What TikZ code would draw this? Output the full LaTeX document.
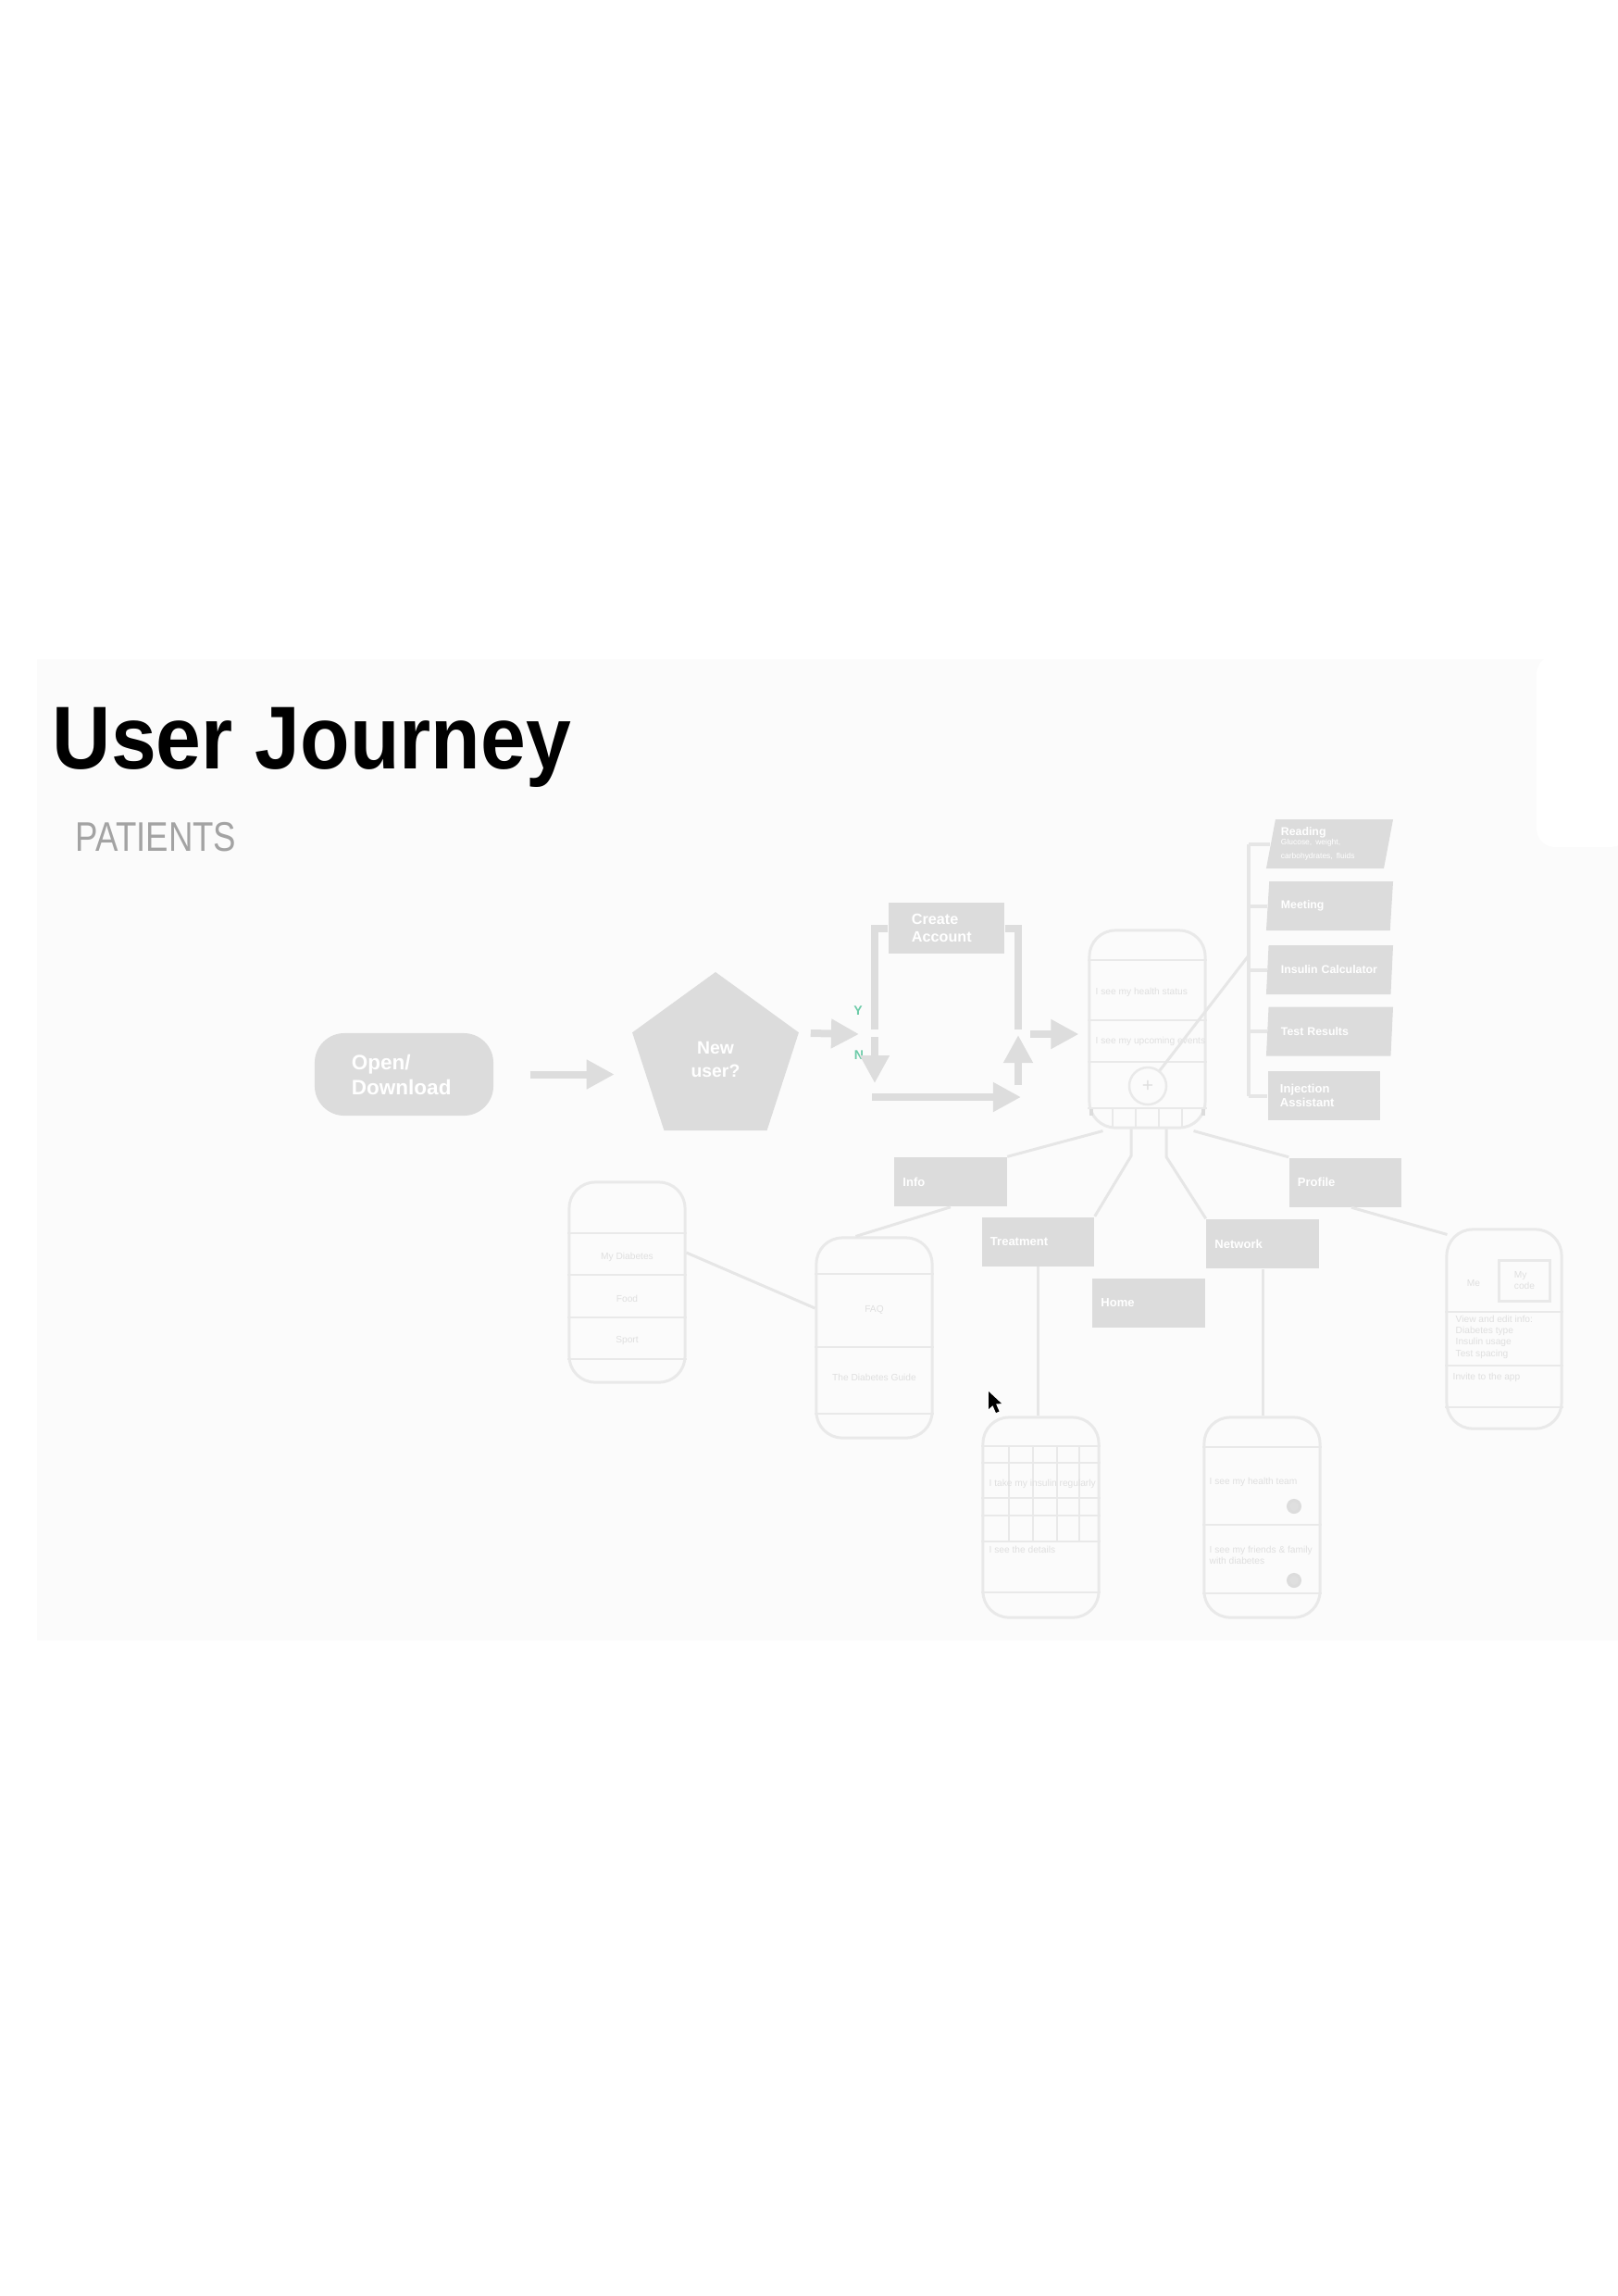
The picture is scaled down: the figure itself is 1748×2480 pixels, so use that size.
\documentclass[tikz,border=0pt]{standalone}
\usepackage{fontspec}
\setmainfont{Liberation Sans}
\newfontfamily\titlefont[FakeStretch=0.91]{Liberation Sans}
\newfontfamily\subfont[FakeStretch=0.82]{Liberation Sans}
\usetikzlibrary{positioning, arrows.meta, shapes.geometric, calc}
\definecolor{boxgray}{HTML}{DCDCDC}
\definecolor{flowgray}{HTML}{DDDDDD}
\definecolor{linegray}{HTML}{E6E6E6}
\definecolor{screengray}{HTML}{E9E9E9}
\definecolor{faintgray}{HTML}{DFDFDF}
\definecolor{slidegray}{HTML}{FBFBFB}
\definecolor{yesgreen}{HTML}{6CCBA8}
\definecolor{subgray}{HTML}{A3A3A3}

\begin{document}
\begin{tikzpicture}[x=0.01cm, y=-0.01cm]
    \tikzstyle{every node}=[inner sep=0pt]
    \tikzstyle{flow} = [draw=flowgray, line width=0.08cm, -{Triangle[length=0.3cm, width=0.3cm]}]
    \tikzstyle{flowline} = [draw=flowgray, line width=0.08cm]
    \tikzstyle{menubox} = [rectangle, fill=boxgray, minimum width=1.21cm, minimum height=0.53cm, text width=1.03cm, align=left, text=white, font=\fontsize{3.7}{4.4}\selectfont\bfseries]
    \tikzstyle{addbox} = [trapezium, trapezium left angle=74, trapezium right angle=106, trapezium stretches body, fill=boxgray, minimum width=1.37cm, minimum height=0.53cm, text width=1.05cm, align=left, text=white, font=\fontsize{3.5}{4.3}\selectfont\bfseries]
    \tikzstyle{phone} = [rectangle, rounded corners=0.28cm, draw=screengray, line width=0.03cm, minimum width=1.25cm, minimum height=2.16cm]
    \tikzstyle{divider} = [draw=screengray, line width=0.025cm]
    \tikzstyle{link} = [draw=linegray, line width=0.03cm]
    \tikzstyle{smalltext} = [text=faintgray, font=\fontsize{2.9}{3.5}\selectfont]
    \tikzstyle{yesno} = [text=yesgreen, font=\fontsize{4}{4}\selectfont\bfseries]

    \useasboundingbox (0,0) rectangle (1748,2480);
    \fill[white] (0,0) rectangle (1748,2480);
    \fill[slidegray] (40,712) rectangle (1748,1772);
    \fill[white, rounded corners=0.2cm] (1660,708) rectangle (1760,915);

    % title
    \node[anchor=base west, text=black, font=\titlefont\bfseries\fontsize{27.4}{32}\selectfont] (title) at (56,830) {User Journey};
    \node[anchor=base west, text=subgray, font=\subfont\fontsize{12.7}{15}\selectfont] (sub) at (81,919) {PATIENTS};

    % start
    \node[rectangle, rounded corners=0.32cm, fill=boxgray, minimum width=1.93cm, minimum height=0.89cm, text width=1.13cm, align=left, text=white, font=\fontsize{6.4}{7.7}\selectfont\bfseries] (od) at (436.5,1160.5) {Open/\\Download};
    \node[regular polygon, regular polygon sides=5, minimum size=1.89cm, fill=boxgray, align=center, text=white, font=\fontsize{5.5}{7}\selectfont\bfseries] (nu) at (773,1144.5) {New\\user?};
    \node[rectangle, fill=boxgray, minimum width=1.25cm, minimum height=0.55cm, text width=0.75cm, align=left, text=white, font=\fontsize{4.6}{5.6}\selectfont\bfseries] (ca) at (1022.5,1002.5) {Create\\Account};

    \coordinate (ysplit) at (945,1117);
    \coordinate (jn) at (1100,1117);

    \draw[flow] ($(od.east)+(39,0)$) -- ($(od.east)+(130,0)$);
    \draw[flow] ($(nu.corner 5)+(12,1)$) -- ($(ysplit)+(-17,0)$);
    \node[yesno] (yes) at (927,1092) {Y};
    \node[yesno] (no) at (928,1140) {N};

    \draw[flowline] (ca.west) -| ($(ysplit)+(0,-5)$);
    \draw[flow] ($(ysplit)+(0,3)$) -- ($(ysplit)+(0,53)$);
    \draw[flowline] (ca.east) -| ($(jn)+(0,-5)$);
    \draw[flow] ($(jn)+(0,55)$) -- ($(jn)+(0,1)$);
    \draw[flow] ($(ysplit)+(-3,68)$) -- ($(jn)+(3,68)$);

    % home screen
    \node[phone] (p0) at (1239.5,1111.5) [minimum height=2.13cm] {};
    \foreach \y in {1037,1102,1147,1197}
        \draw[divider] (p0.west |- 0,\y) -- (p0.east |- 0,\y);
    \foreach \x in {1202,1227,1252,1277}
        \draw[divider] (\x,1197) -- (\x,1218);
    \draw[boxgray, line width=0.04cm] (1179,1198) -- (1179,1205);
    \draw[boxgray, line width=0.04cm] (1300,1198) -- (1300,1205);
    \node[smalltext, anchor=west] (p0a) at (1183,1072) {I see my health status};
    \node[smalltext, anchor=west] (p0b) at (1183,1125) {I see my upcoming events};
    \node[circle, draw=screengray, line width=0.025cm, minimum size=0.4cm, text=faintgray, font=\fontsize{6}{6}\selectfont] (plus) at (1240,1173) {+};

    \draw[flow] ($(jn)+(13,0)$) -- ($(p0.west |- jn)+(-10,0)$);

    % add menu
    \node[addbox] (rd) at (1436.5,911.5) {Reading\\[-0.4pt]{\fontsize{2.4}{3}\selectfont\mdseries Glucose, weight,\\carbohydrates, fluids}};
    \node[addbox] (mt) at (1436.5,978.5) {Meeting};
    \node[addbox] (ic) at (1436.5,1047.5) {\mbox{Insulin Calculator}};
    \node[addbox] (tr2) at (1436.5,1114) {Test Results};
    \node[menubox, minimum width=1.21cm, text width=0.95cm] (ia) at (1430.5,1183.5) {Injection\\Assistant};

    \coordinate (brk) at (1349,1032);
    \draw[link, line width=0.04cm] (brk |- rd.west) -- (brk |- ia.west);
    \foreach \n in {rd,mt,ic,tr2,ia}
        \draw[link, line width=0.04cm] (brk |- \n.west) -- (\n.west);
    \draw[link] (plus) -- (brk);

    % tab menu
    \node[menubox] (info) at (1027,1276.5) {Info};
    \node[menubox] (tr) at (1121.5,1341) {Treatment};
    \node[menubox] (hm) at (1241,1407.5) {Home};
    \node[menubox] (nw) at (1364,1343.5) {Network};
    \node[menubox] (pf) at (1453.5,1277) {Profile};

    \draw[link] ($(p0.south west)+(16,2)$) -- (info.north east);
    \draw[link] ($(p0.south)+(-17.5,0)$) -- ++(0,29) -- (tr.north east);
    \draw[link] ($(p0.south)+(20.5,0)$) -- ++(0,30) -- (nw.north west);
    \draw[link] ($(p0.south east)+(-14,2)$) -- (pf.north west);

    % info screens
    \node[phone] (md) at (677.5,1385) {};
    \foreach \y in {1332,1377,1423,1468}
        \draw[divider] (md.west |- 0,\y) -- (md.east |- 0,\y);
    \node[smalltext] (md1) at (677.5,1358) {My Diabetes};
    \node[smalltext] (md2) at (677.5,1403) {Food};
    \node[smalltext] (md3) at (677.5,1448) {Sport};

    \node[phone] (faq) at (944.5,1445) {};
    \foreach \y in {1376,1455,1527}
        \draw[divider] (faq.west |- 0,\y) -- (faq.east |- 0,\y);
    \node[smalltext] (faq1) at (944.5,1415) {FAQ};
    \node[smalltext] (faq2) at (944.5,1488) {The Diabetes Guide};

    \draw[link] (info.south) -- ($(faq.north)+(-20,0)$);
    \draw[link] ($(md.east)+(0,-32)$) -- ($(faq.west)+(0,-32)$);

    % treatment screen
    \node[phone] (cal) at (1124.5,1639) {};
    \foreach \y in {1562,1665,1720}
        \draw[divider] (cal.west |- 0,\y) -- (cal.east |- 0,\y);
    \foreach \y in {1580,1618,1637}
        \draw[divider, line width=0.018cm] (cal.west |- 0,\y) -- (cal.east |- 0,\y);
    \foreach \x in {1090,1116,1142,1166}
        \draw[divider, line width=0.018cm] (\x,1562) -- (\x,1665);
    \node[smalltext, anchor=west] (cal1) at (1068,1603) {I take my insulin regularly};
    \node[smalltext, anchor=west] (cal2) at (1068,1674) {I see the details};
    \draw[link] (tr.south) -- (tr.south |- cal.north);

    % network screen
    \node[phone] (np) at (1363.5,1639) {};
    \foreach \y in {1563,1647,1721}
        \draw[divider] (np.west |- 0,\y) -- (np.east |- 0,\y);
    \node[smalltext, anchor=west] (np1) at (1306,1601) {I see my health team};
    \node[smalltext, anchor=west, align=left] (np2) at (1306,1680) {I see my friends \& family\\with diabetes};
    \node[circle, draw=boxgray, fill=faintgray, line width=0.03cm, minimum size=0.13cm] (nb1) at (1398,1627) {};
    \node[circle, draw=boxgray, fill=faintgray, line width=0.03cm, minimum size=0.13cm] (nb2) at (1398,1707) {};
    \draw[link] (nw.south) -- (nw.south |- np.north);

    % profile screen
    \node[phone] (pp) at (1625,1435.5) [minimum width=1.24cm, minimum height=2.15cm] {};
    \foreach \y in {1417,1475,1520}
        \draw[divider] (pp.west |- 0,\y) -- (pp.east |- 0,\y);
    \node[smalltext] (me) at (1592,1386) {Me};
    \node[rectangle, draw=screengray, line width=0.03cm, minimum width=0.54cm, minimum height=0.44cm, smalltext, align=left] (code) at (1647,1383) {My\\code};
    \node[smalltext, anchor=north west, align=left] (pp1) at (1572,1420) {View and edit info:\\Diabetes type\\Insulin usage\\Test spacing};
    \node[smalltext, anchor=west] (pp2) at (1569,1488) {Invite to the app};
    \draw[link] ($(pf.south)+(6.5,0)$) -- ($(pp.north west)+(2,7)$);

    % pointer
    \fill[black] (1068,1503) -- (1068,1522) -- (1072.5,1518) -- (1076,1526) -- (1079.5,1524.5) -- (1076,1516.5) -- (1082,1516) -- cycle;
\end{tikzpicture}
\end{document}
